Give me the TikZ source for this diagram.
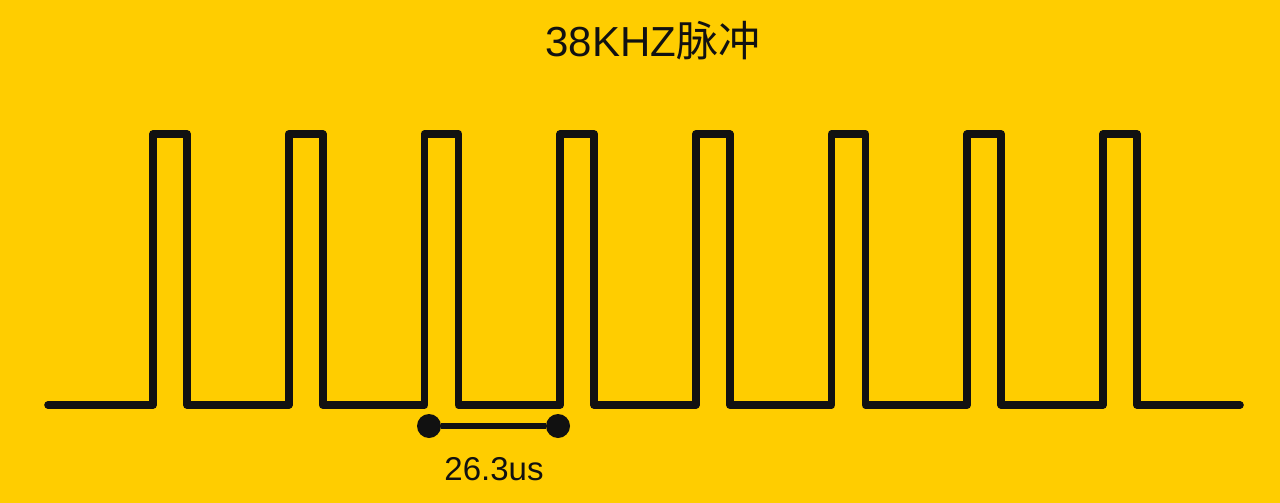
\documentclass[tikz,border=0pt]{standalone}
\usepackage{fontspec}
\setmainfont{Liberation Sans}
\newfontfamily\cjk{Noto Sans CJK SC}
\definecolor{pulseyellow}{HTML}{FFCD00}
\definecolor{pulseink}{HTML}{111111}

\begin{document}
\begin{tikzpicture}[x=0.5pt, y=-0.5pt,
    wave/.style={draw=pulseink, line width=3.8pt, line join=round, line cap=round},
    dot/.style={circle, fill=pulseink, inner sep=0pt, minimum size=12pt},
    label/.style={text=pulseink, inner sep=0pt}]
    \def\period{135.7}
    \def\pulsewidth{34}

    \coordinate (Start) at (48,405);
    \coordinate (End) at (1240,405);

    % Background
    \fill[pulseyellow] (0,0) rectangle (1280,503);
    \useasboundingbox (0,0) rectangle (1280,503);

    % Title
    \node[label] (Title) at (653,41) {\fontsize{21}{25}\selectfont 38KHZ{\cjk 脉冲}};

    % Pulse train
    \draw[wave] (Start) \foreach \i in {0,...,7} {
        -- (153+\i*\period,405) -- ++(0,-271) -- ++(\pulsewidth,0) -- ++(0,271)
    } -- (End);

    % Period marker
    \node[dot] (DotA) at (429,426) {};
    \node[dot] (DotB) at (558,426) {};
    \draw[draw=pulseink, line width=3.3pt] (DotA) -- (DotB);
    \node[label] (Period) at (494,469) {\fontsize{16.5}{20}\selectfont 26.3us};

\end{tikzpicture}
\end{document}
